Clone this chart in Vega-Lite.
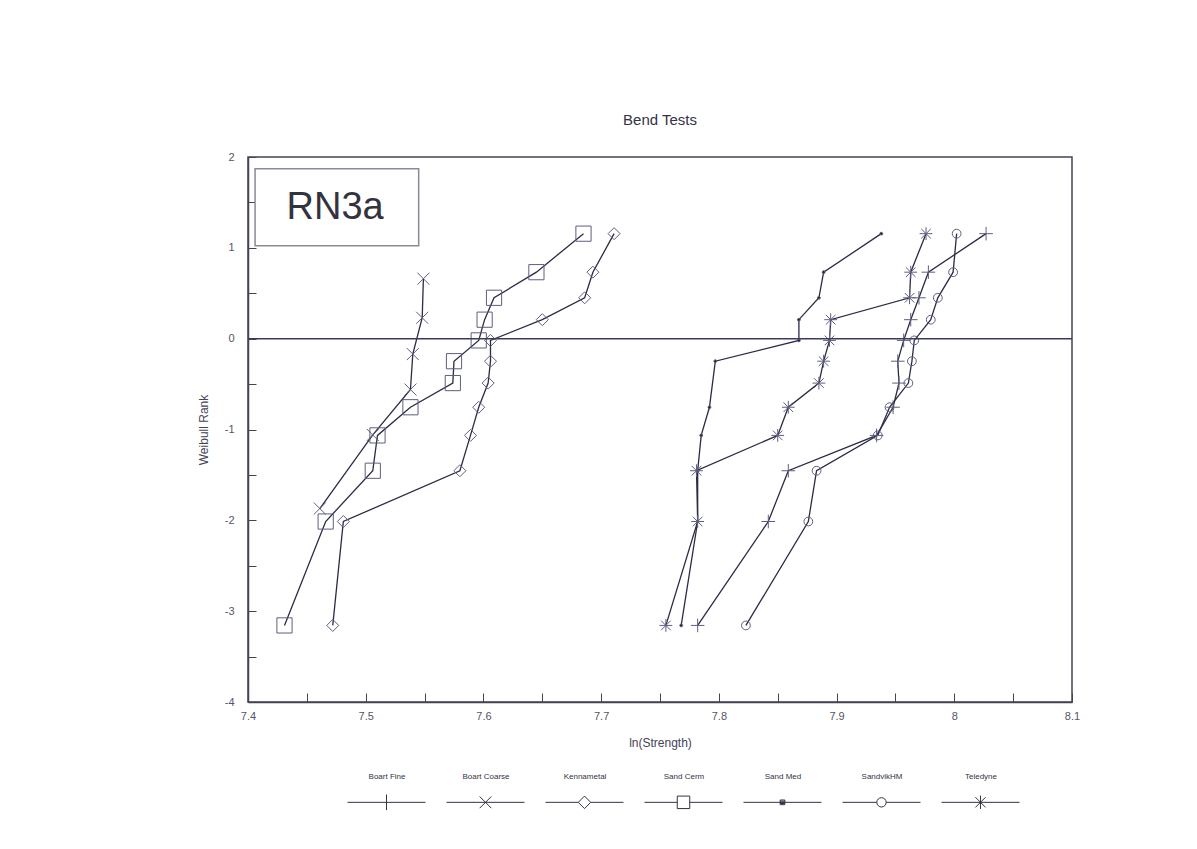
{
  "$schema": "https://vega.github.io/schema/vega-lite/v6.json",
  "width": 824,
  "height": 545,
  "autosize": {"type": "none"},
  "padding": {"left": 248, "top": 157, "right": 125, "bottom": 147},
  "background": "white",
  "title": {"text": "Bend Tests", "fontSize": 15, "font": "Liberation Sans", "fontWeight": "normal", "color": "#333344", "offset": 23, "anchor": "middle"},
  "config": {"view": {"stroke": "#444455", "strokeWidth": 1.5}, "font": "Liberation Sans"},
  "data": {"values": [
    {"series": "Boart Fine", "x": 8.027, "y": 1.156},
    {"series": "Boart Fine", "x": 7.978, "y": 0.732},
    {"series": "Boart Fine", "x": 7.970, "y": 0.450},
    {"series": "Boart Fine", "x": 7.963, "y": 0.209},
    {"series": "Boart Fine", "x": 7.957, "y": -0.019},
    {"series": "Boart Fine", "x": 7.952, "y": -0.248},
    {"series": "Boart Fine", "x": 7.953, "y": -0.489},
    {"series": "Boart Fine", "x": 7.948, "y": -0.755},
    {"series": "Boart Fine", "x": 7.934, "y": -1.065},
    {"series": "Boart Fine", "x": 7.859, "y": -1.454},
    {"series": "Boart Fine", "x": 7.842, "y": -2.013},
    {"series": "Boart Fine", "x": 7.782, "y": -3.157},
    {"series": "Boart Coarse", "x": 7.549, "y": 0.66},
    {"series": "Boart Coarse", "x": 7.548, "y": 0.23},
    {"series": "Boart Coarse", "x": 7.540, "y": -0.17},
    {"series": "Boart Coarse", "x": 7.538, "y": -0.56},
    {"series": "Boart Coarse", "x": 7.506, "y": -1.06},
    {"series": "Boart Coarse", "x": 7.461, "y": -1.87},
    {"series": "Kennametal", "x": 7.711, "y": 1.156},
    {"series": "Kennametal", "x": 7.693, "y": 0.732},
    {"series": "Kennametal", "x": 7.686, "y": 0.450},
    {"series": "Kennametal", "x": 7.650, "y": 0.209},
    {"series": "Kennametal", "x": 7.606, "y": -0.019},
    {"series": "Kennametal", "x": 7.606, "y": -0.248},
    {"series": "Kennametal", "x": 7.604, "y": -0.489},
    {"series": "Kennametal", "x": 7.596, "y": -0.755},
    {"series": "Kennametal", "x": 7.589, "y": -1.065},
    {"series": "Kennametal", "x": 7.580, "y": -1.454},
    {"series": "Kennametal", "x": 7.481, "y": -2.013},
    {"series": "Kennametal", "x": 7.472, "y": -3.157},
    {"series": "Sand Cerm", "x": 7.685, "y": 1.156},
    {"series": "Sand Cerm", "x": 7.645, "y": 0.732},
    {"series": "Sand Cerm", "x": 7.609, "y": 0.450},
    {"series": "Sand Cerm", "x": 7.601, "y": 0.209},
    {"series": "Sand Cerm", "x": 7.596, "y": -0.019},
    {"series": "Sand Cerm", "x": 7.575, "y": -0.248},
    {"series": "Sand Cerm", "x": 7.574, "y": -0.489},
    {"series": "Sand Cerm", "x": 7.538, "y": -0.755},
    {"series": "Sand Cerm", "x": 7.510, "y": -1.065},
    {"series": "Sand Cerm", "x": 7.506, "y": -1.454},
    {"series": "Sand Cerm", "x": 7.466, "y": -2.013},
    {"series": "Sand Cerm", "x": 7.431, "y": -3.157},
    {"series": "Sand Med", "x": 7.938, "y": 1.156},
    {"series": "Sand Med", "x": 7.889, "y": 0.732},
    {"series": "Sand Med", "x": 7.885, "y": 0.450},
    {"series": "Sand Med", "x": 7.868, "y": 0.209},
    {"series": "Sand Med", "x": 7.868, "y": -0.019},
    {"series": "Sand Med", "x": 7.797, "y": -0.248},
    {"series": "Sand Med", "x": 7.792, "y": -0.755},
    {"series": "Sand Med", "x": 7.785, "y": -1.065},
    {"series": "Sand Med", "x": 7.782, "y": -1.454},
    {"series": "Sand Med", "x": 7.782, "y": -2.013},
    {"series": "Sand Med", "x": 7.768, "y": -3.157},
    {"series": "SandvikHM", "x": 8.002, "y": 1.156},
    {"series": "SandvikHM", "x": 7.999, "y": 0.732},
    {"series": "SandvikHM", "x": 7.986, "y": 0.450},
    {"series": "SandvikHM", "x": 7.980, "y": 0.209},
    {"series": "SandvikHM", "x": 7.966, "y": -0.019},
    {"series": "SandvikHM", "x": 7.964, "y": -0.248},
    {"series": "SandvikHM", "x": 7.961, "y": -0.489},
    {"series": "SandvikHM", "x": 7.945, "y": -0.755},
    {"series": "SandvikHM", "x": 7.935, "y": -1.065},
    {"series": "SandvikHM", "x": 7.883, "y": -1.454},
    {"series": "SandvikHM", "x": 7.876, "y": -2.013},
    {"series": "SandvikHM", "x": 7.823, "y": -3.157},
    {"series": "Teledyne", "x": 7.976, "y": 1.156},
    {"series": "Teledyne", "x": 7.963, "y": 0.732},
    {"series": "Teledyne", "x": 7.962, "y": 0.450},
    {"series": "Teledyne", "x": 7.895, "y": 0.209},
    {"series": "Teledyne", "x": 7.894, "y": -0.019},
    {"series": "Teledyne", "x": 7.889, "y": -0.248},
    {"series": "Teledyne", "x": 7.885, "y": -0.489},
    {"series": "Teledyne", "x": 7.859, "y": -0.755},
    {"series": "Teledyne", "x": 7.850, "y": -1.065},
    {"series": "Teledyne", "x": 7.781, "y": -1.454},
    {"series": "Teledyne", "x": 7.782, "y": -2.013},
    {"series": "Teledyne", "x": 7.755, "y": -3.157}
  ]},
  "layer": [
    {
      "mark": {"type": "line", "color": "#2b2b45", "strokeWidth": 1.3},
      "encoding": {
        "x": {"field": "x", "type": "quantitative",
          "scale": {"domain": [7.4, 8.1], "nice": false, "zero": false},
          "axis": {"title": "ln(Strength)", "titleFontSize": 12, "titleFontWeight": "normal", "titleColor": "#444455", "titlePadding": 16,
            "values": [7.4, 7.45, 7.5, 7.55, 7.6, 7.65, 7.7, 7.75, 7.8, 7.85, 7.9, 7.95, 8.0, 8.05, 8.1],
            "labelExpr": "abs(datum.value*10 - round(datum.value*10)) < 0.001 ? '' + round(datum.value*10)/10 : ''",
            "labelFontSize": 11, "labelColor": "#555566", "labelPadding": 17, "labelFlush": false,
            "tickSize": -9, "tickColor": "#444455", "domainColor": "#444455", "domainWidth": 1.5, "grid": false}},
        "y": {"field": "y", "type": "quantitative",
          "scale": {"domain": [-4, 2], "nice": false, "zero": false},
          "axis": {"title": "Weibull Rank", "titleFontSize": 12, "titleFontWeight": "normal", "titleColor": "#444455", "titlePadding": 14,
            "values": [-4, -3.5, -3, -2.5, -2, -1.5, -1, -0.5, 0, 0.5, 1, 1.5, 2],
            "labelExpr": "datum.value % 1 === 0 ? '' + datum.value : ''",
            "labelFontSize": 11, "labelColor": "#555566", "labelPadding": 22,
            "tickSize": -8, "tickColor": "#444455", "domainColor": "#444455", "domainWidth": 1.5, "grid": false}},
        "detail": {"field": "series"},
        "order": {"field": "y", "type": "quantitative"}
      }
    },
    {
      "mark": {"type": "point", "size": 256, "strokeWidth": 1, "opacity": 1},
      "encoding": {
        "x": {"field": "x", "type": "quantitative", "title": "ln(Strength)"},
        "y": {"field": "y", "type": "quantitative", "title": "Weibull Rank"},
        "shape": {"field": "series", "type": "nominal", "legend": null,
          "scale": {"domain": ["Boart Fine", "Boart Coarse", "Kennametal", "Sand Cerm", "Sand Med", "SandvikHM", "Teledyne"],
            "range": [
              "M-0.85,0H0.85M0,-0.85V0.85",
              "M-0.75,-0.75L0.75,0.75M-0.75,0.75L0.75,-0.75",
              "M-0.75,0L0,-0.75L0.75,0L0,0.75Z",
              "M-0.95,-0.95H0.95V0.95H-0.95Z",
              "M-0.18,0A0.18,0.18 0 1,0 0.18,0A0.18,0.18 0 1,0 -0.18,0Z",
              "M-0.55,0A0.55,0.55 0 1,0 0.55,0A0.55,0.55 0 1,0 -0.55,0Z",
              "M-0.8,0H0.8M0,-0.8V0.8M-0.6,-0.6L0.6,0.6M-0.6,0.6L0.6,-0.6"
            ]}},
        "color": {"value": "#5e5e80"},
        "fill": {"condition": {"test": "datum.series === 'Sand Med'", "value": "#222233"}, "value": "transparent"}
      }
    },
    {
      "mark": {"type": "point", "opacity": 0, "size": 10},
      "encoding": {
        "x": {"field": "x", "type": "quantitative", "title": "ln(Strength)"},
        "y": {"field": "y", "type": "quantitative", "title": "Weibull Rank"},
        "shape": {"field": "series", "type": "nominal",
          "scale": {"domain": ["Boart Fine", "Boart Coarse", "Kennametal", "Sand Cerm", "Sand Med", "SandvikHM", "Teledyne"],
            "range": [
              "M0,0.44L0,0.44M0,0.88L0,0.88M-1,0.66H1M0,0.46V0.86",
              "M0,0.44L0,0.44M0,0.88L0,0.88M-1,0.66H1M-0.15,0.51L0.15,0.81M-0.15,0.81L0.15,0.51",
              "M0,0.44L0,0.44M0,0.88L0,0.88M-1,0.66H-0.16M0.16,0.66H1M-0.16,0.66L0,0.5L0.16,0.66L0,0.82Z",
              "M0,0.44L0,0.44M0,0.88L0,0.88M-1,0.66H-0.16M0.16,0.66H1M-0.16,0.5H0.16V0.82H-0.16Z",
              "M0,0.44L0,0.44M0,0.88L0,0.88M-1,0.66H1M-0.06,0.6H0.06V0.72H-0.06ZM-0.06,0.63H0.06M-0.06,0.66H0.06M-0.06,0.69H0.06",
              "M0,0.44L0,0.44M0,0.88L0,0.88M-1,0.66H-0.12M0.12,0.66H1M-0.12,0.66A0.12,0.12 0 1,0 0.12,0.66A0.12,0.12 0 1,0 -0.12,0.66Z",
              "M0,0.44L0,0.44M0,0.88L0,0.88M-1,0.66H1M0,0.49V0.83M-0.13,0.53L0.13,0.79M-0.13,0.79L0.13,0.53"
            ]},
          "legend": {"title": null, "orient": "none", "legendX": 99, "legendY": 580, "direction": "horizontal", "columns": 7,
            "symbolSize": 6084, "symbolStrokeColor": "#333344", "symbolStrokeWidth": 1, "symbolOpacity": 1, "symbolFillColor": "white",
            "labelAlign": "center", "labelOffset": -39, "labelFontSize": 8, "labelColor": "#333344", "labelFont": "Liberation Sans",
            "columnPadding": 16, "labelLimit": 120, "padding": 0}}
      }
    },
    {
      "data": {"values": [{}]},
      "mark": {"type": "rule", "color": "#3a3a5a", "strokeWidth": 1.5},
      "encoding": {
        "x": {"datum": 7.4, "type": "quantitative"},
        "x2": {"datum": 8.1},
        "y": {"datum": 0, "type": "quantitative"}
      }
    },
    {
      "data": {"values": [{}]},
      "mark": {"type": "rect", "fill": "white", "stroke": "#8a8a9a", "strokeWidth": 1.5},
      "encoding": {
        "x": {"datum": 7.406, "type": "quantitative"},
        "x2": {"datum": 7.545},
        "y": {"datum": 1.872, "type": "quantitative"},
        "y2": {"datum": 1.024}
      }
    },
    {
      "data": {"values": [{}]},
      "mark": {"type": "text", "text": "RN3a", "fontSize": 38, "font": "Liberation Sans", "color": "#333340", "align": "center", "baseline": "middle"},
      "encoding": {
        "x": {"datum": 7.474, "type": "quantitative"},
        "y": {"datum": 1.44, "type": "quantitative"}
      }
    }
  ],
  "resolve": {"scale": {"shape": "independent"}, "legend": {"shape": "independent"}}
}
